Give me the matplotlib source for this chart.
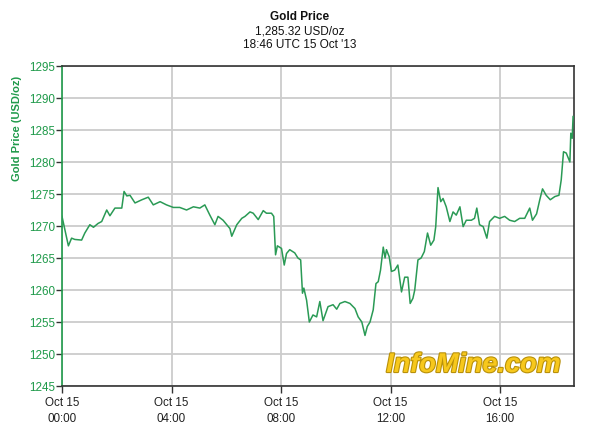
import matplotlib
matplotlib.use("Agg")
import matplotlib.pyplot as plt
import matplotlib.patheffects as pe

plt.rcParams['font.family'] = ['Liberation Sans', 'DejaVu Sans']

# minutes since 00:00 UTC, 15 Oct 2013
minutes = [0, 14, 21, 28, 43, 50, 61, 69, 79, 87, 98, 105, 116, 131, 136, 142, 149,
           160, 175, 189, 200, 215, 229, 244, 258, 273, 288, 302, 313, 324, 335, 342,
           353, 361, 368, 372, 383, 394, 401, 412, 419, 430, 441, 448, 459, 464, 468,
           472, 481, 487, 492, 499, 510, 517, 523, 527, 530, 536, 542, 550, 558, 565,
           572, 583, 594, 602, 609, 620, 631, 642, 649, 657, 664, 669, 675, 682, 688,
           693, 698, 704, 708, 711, 717, 722, 729, 736, 744, 751, 758, 763, 769, 773,
           780, 787, 794, 801, 808, 815, 819, 824, 830, 835, 842, 850, 857, 864, 872,
           879, 886, 897, 904, 909, 915, 923, 931, 937, 948, 959, 970, 981, 992, 1003,
           1014, 1025, 1031, 1040, 1047, 1053, 1061, 1070, 1080, 1089, 1094, 1099,
           1105, 1113, 1115, 1118, 1120]
price = [1271.5, 1266.9, 1268.1, 1267.9, 1267.8, 1268.9, 1270.2, 1269.8, 1270.4, 1270.7,
         1272.5, 1271.6, 1272.8, 1272.8, 1275.4, 1274.7, 1274.8, 1273.6, 1274.1, 1274.5,
         1273.3, 1273.8, 1273.3, 1272.9, 1272.9, 1272.5, 1273.0, 1272.8, 1273.3, 1271.7,
         1270.2, 1271.5, 1270.9, 1270.2, 1269.6, 1268.4, 1270.2, 1271.2, 1271.5, 1272.2,
         1272.0, 1271.0, 1272.4, 1272.0, 1272.0, 1271.5, 1265.5, 1266.9, 1266.5, 1263.9,
         1265.7, 1266.3, 1265.8, 1265.0, 1264.7, 1259.5, 1260.3, 1258.4, 1255.0, 1256.1,
         1255.8, 1258.2, 1255.2, 1257.4, 1257.7, 1257.0, 1257.9, 1258.2, 1257.9, 1257.1,
         1255.8, 1255.0, 1252.9, 1254.3, 1255.0, 1256.9, 1261.0, 1261.3, 1263.1, 1266.7,
         1265.0, 1266.3, 1265.2, 1262.9, 1263.1, 1263.9, 1259.7, 1262.0, 1262.0, 1257.9,
         1258.7, 1260.0, 1264.7, 1265.0, 1266.0, 1268.9, 1267.0, 1267.8, 1269.9, 1276.0,
         1273.8, 1274.3, 1273.0, 1270.7, 1272.2, 1271.7, 1273.0, 1269.9, 1270.9, 1270.9,
         1271.2, 1272.8, 1270.2, 1269.9, 1268.1, 1270.7, 1271.5, 1271.2, 1271.5, 1270.9,
         1270.7, 1271.2, 1271.2, 1272.8, 1270.9, 1271.9, 1274.1, 1275.8, 1274.8, 1274.1,
         1274.6, 1274.8, 1277.2, 1281.6, 1281.4, 1280.0, 1284.5, 1283.7, 1287.1]

xtick_minutes = [0, 240, 480, 720, 960]
xtick_labels = ["Oct 15\n00:00", "Oct 15\n04:00", "Oct 15\n08:00",
                "Oct 15\n12:00", "Oct 15\n16:00"]
ytick_values = [1245, 1250, 1255, 1260, 1265, 1270, 1275, 1280, 1285, 1290, 1295]

title = "Gold Price"
subtitle1 = "1,285.32 USD/oz"
subtitle2 = "18:46 UTC 15 Oct '13"
ylabel = "Gold Price (USD/oz)"
watermark = "InfoMine.com"

GREEN_LINE = '#2a9a55'
GREEN_TEXT = '#1f9a4a'

fig = plt.figure(figsize=(6.0, 4.33), dpi=100)
ax = fig.add_axes([62/600, 1-386/433, (574-62)/600, (386-66)/433])

ax.plot(minutes, price, color=GREEN_LINE, linewidth=1.1, zorder=3)

ax.set_xlim(0, 1122)
ax.set_ylim(1245, 1295)
ax.set_xticks(xtick_minutes)
ax.set_xticklabels(xtick_labels, fontsize=8.4, color='#222222', linespacing=1.45)
ax.set_yticks(ytick_values)
ax.set_yticklabels([str(v) for v in ytick_values], fontsize=8.4, color=GREEN_TEXT)

ax.grid(True, color='#cccccc', linewidth=1.3, zorder=0)
ax.set_axisbelow(True)

for s in ['top', 'right', 'bottom']:
    ax.spines[s].set_color('#333333')
    ax.spines[s].set_linewidth(1.2)
ax.spines['left'].set_color(GREEN_TEXT)
ax.spines['left'].set_linewidth(1.2)

ax.tick_params(axis='y', direction='out', length=4, width=1, color='#333333', pad=1)
ax.tick_params(axis='x', direction='out', length=5, width=1, color='#333333', pad=3)

fig.text(300/600, 1-17/433, title, ha='center', va='center', fontsize=8.5,
         fontweight='bold', color='#111111')
fig.text(300/600, 1-31/433, subtitle1, ha='center', va='center', fontsize=8.5,
         color='#111111')
fig.text(300/600, 1-45/433, subtitle2, ha='center', va='center', fontsize=8.5,
         color='#111111')
fig.text(17/600, 1-128/433, ylabel, ha='center', va='center', rotation=90,
         fontsize=8, fontweight='bold', color=GREEN_TEXT)

ax.text(0.975, 0.025, watermark, transform=ax.transAxes, ha='right', va='bottom',
        fontsize=19.5, fontweight='bold', style='italic', color='#f7c81c', zorder=4,
        path_effects=[pe.withStroke(linewidth=1.6, foreground='#b8900a')])

fig.savefig('out.png', dpi=100)
